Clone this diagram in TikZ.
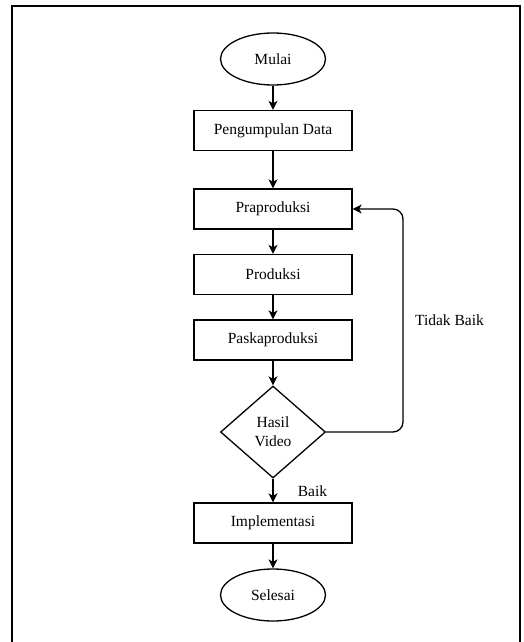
\documentclass[tikz,border=0pt]{standalone}
\usepackage{fontspec}
\setmainfont{Liberation Serif}
\usetikzlibrary{shapes.geometric,arrows.meta}
\begin{document}
\begin{tikzpicture}[x=1pt,y=-1pt,
  font=\fontsize{15.5}{19}\selectfont,
  every node/.style={inner sep=0pt, line width=1.3pt},
  procbox/.style={draw, rectangle, minimum width=158pt, minimum height=40pt},
  termbox/.style={draw, ellipse, minimum width=105pt, minimum height=52pt},
  decbox/.style={draw, diamond, minimum width=105pt, minimum height=92pt, align=center},
  arr/.style={line width=1.3pt, -{Stealth[length=9pt,width=9pt,inset=2.5pt]}},
  lbl/.style={anchor=center}]
\useasboundingbox (0,0) rectangle (524,642);
\draw[line width=1.5pt] (12,642) -- (12,6) -- (520,6) -- (520,642);
\node[termbox] (mulai) at (273,59) {Mulai};
\node[procbox] (data) at (273,130.5) {Pengumpulan Data};
\node[procbox] (pra) at (273,209) {Praproduksi};
\node[procbox] (prod) at (273,274.5) {Produksi};
\node[procbox] (pasca) at (273,340) {Paskaproduksi};
\node[decbox] (hasil) at (273,432) {Hasil\\Video};
\node[procbox] (impl) at (273,523) {Implementasi};
\node[termbox] (selesai) at (273,595) {Selesai};
\draw[arr] (mulai) -- (data);
\draw[arr] (data) -- (pra);
\draw[arr] (pra) -- (prod);
\draw[arr] (prod) -- (pasca);
\draw[arr] (pasca) -- (hasil);
\draw[arr] (hasil) -- (impl);
\draw[arr] (impl) -- (selesai);
\coordinate (loopc) at (403,432);
\draw[arr, rounded corners=10pt] (hasil.east) -- (loopc) |- (pra.east);
\node[lbl] (tidak) at (449.5,320) {Tidak Baik};
\node[lbl] (baik) at (312.5,491) {Baik};
\end{tikzpicture}
\end{document}
